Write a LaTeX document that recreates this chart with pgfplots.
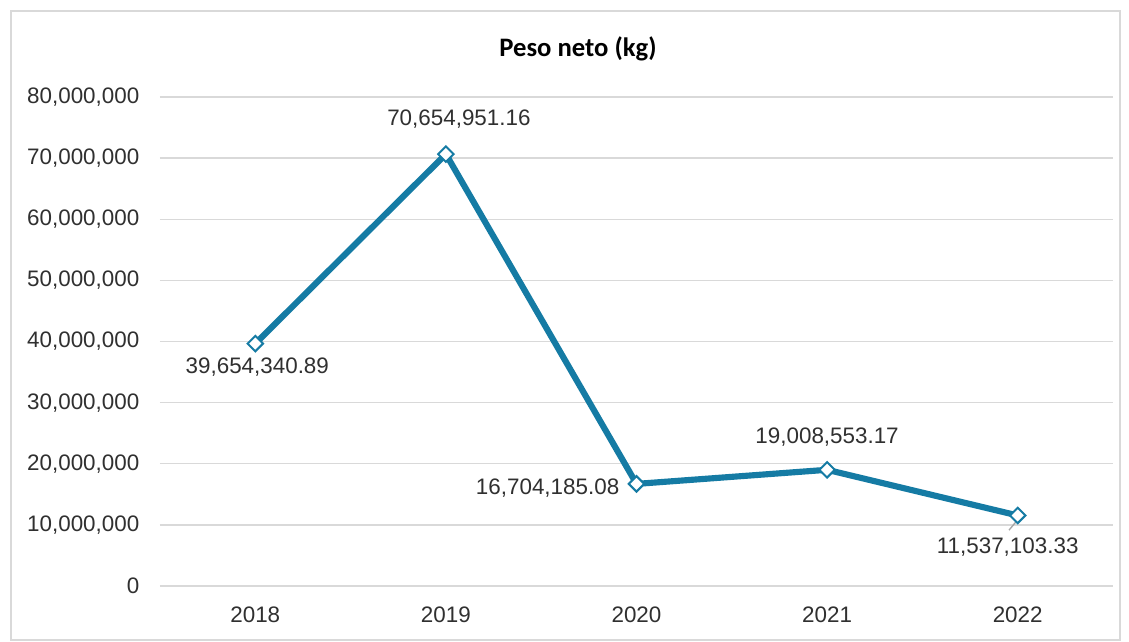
\documentclass[border=0pt]{standalone}
\usepackage{pgfplots}
\pgfplotsset{compat=1.18}
\usepackage{fontspec}
\setmainfont{Liberation Sans}
\newfontfamily\titlefont{Carlito}
\definecolor{linec}{HTML}{157BA4}
\definecolor{gridc}{HTML}{D9D9D9}
\definecolor{txtc}{HTML}{303030}
\begin{document}
\begin{tikzpicture}
\fill[white] (0pt,0pt) rectangle (846.75pt,480.75pt);
\draw[gridc, line width=1.5pt] (7.9pt,0.4pt) rectangle (840pt,472.5pt);
\node[font=\titlefont\bfseries\fontsize{20}{23}\selectfont, text=black] at (433.5pt,444pt) {Peso neto (kg)};
\begin{axis}[
  at={(120pt,41.25pt)}, anchor=south west,
  scale only axis, width=714.75pt, height=366.75pt,
  xmin=-0.5, xmax=4.5, ymin=0, ymax=80000000,
  xtick={0,1,2,3,4}, xticklabels={2018,2019,2020,2021,2022},
  ytick={0,10000000,20000000,30000000,40000000,50000000,60000000,70000000,80000000},
  scaled y ticks=false,
  /pgf/number format/fixed,
  /pgf/number format/1000 sep={,},
  /pgf/number format/assume math mode=true,
  ymajorgrids, grid style={gridc, line width=1.1pt},
  axis line style={draw=none},
  major tick length=0pt,
  tick label style={font=\fontsize{16.8}{19}\selectfont, text=txtc},
  yticklabel style={xshift=-12pt},
  xticklabel style={yshift=-12pt},
  clip=false,
]
\addplot[linec, line width=4.6pt, mark=square*, mark size=4.1pt,
  mark options={rotate=45, fill=white, draw=linec, line width=1.5pt}]
  coordinates {(0,39654340.89) (1,70654951.16) (2,16704185.08) (3,19008553.17) (4,11537103.33)};
\draw[gray!70, line width=1pt] ([xshift=-1.5pt,yshift=-5pt]axis cs:4,11537103.33) -- ++(-5pt,-6pt);
\pgfplotsset{lab/.style={draw=none, mark=none, nodes near coords, point meta=explicit symbolic,
  nodes near coords style={font=\fontsize{16.8}{19}\selectfont, text=txtc, inner sep=0pt, #1}}}
\addplot[lab={anchor=center, xshift=1.5pt, yshift=-18pt}] table[meta=lab]{
x y lab
0 39654340.89 39,654,340.89
};
\addplot[lab={anchor=center, xshift=9.75pt, yshift=26.25pt}] table[meta=lab]{
x y lab
1 70654951.16 70,654,951.16
};
\addplot[lab={anchor=east, xshift=-12.75pt, yshift=-3pt}] table[meta=lab]{
x y lab
2 16704185.08 16,704,185.08
};
\addplot[lab={anchor=center, xshift=0pt, yshift=24.75pt}] table[meta=lab]{
x y lab
3 19008553.17 19,008,553.17
};
\addplot[lab={anchor=center, xshift=-7.5pt, yshift=-24pt}] table[meta=lab]{
x y lab
4 11537103.33 11,537,103.33
};
\end{axis}
\end{tikzpicture}
\end{document}
